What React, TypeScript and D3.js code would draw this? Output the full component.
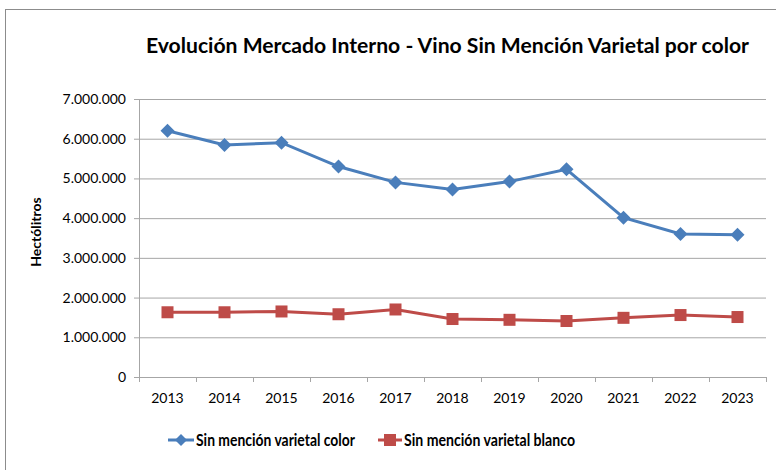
import React from "react";
import * as d3 from "d3";

const years = ["2013","2014","2015","2016","2017","2018","2019","2020","2021","2022","2023"];
const colorSeries = [6200000, 5840000, 5900000, 5300000, 4900000, 4720000, 4920000, 5230000, 4010000, 3600000, 3580000];
const blancoSeries = [1630000, 1630000, 1650000, 1580000, 1700000, 1460000, 1440000, 1410000, 1490000, 1560000, 1510000];
const yTicks = [0, 1000000, 2000000, 3000000, 4000000, 5000000, 6000000, 7000000];
const seriesNames = ["Sin mención varietal color", "Sin mención varietal blanco"];
const title = "Evolución Mercado Interno - Vino Sin Mención Varietal por color";
const yTitle = "Hectólitros";

const W = 776, H = 470;
const left = 139, right = 766, top = 99, bottom = 377;
const BLUE = "#4a7ebb";
const RED = "#be4b48";
const FONT = "Lato, 'Open Sans', sans-serif";

const fmt = (v: number) => (v === 0 ? "0" : d3.format(",")(v).replace(/,/g, "."));

export default function App() {
  const x = d3.scaleBand().domain(years).range([left, right]);
  const y = d3.scaleLinear().domain([0, 7000000]).range([bottom, top]);
  const cx = (d: string) => (x(d) as number) + x.bandwidth() / 2;
  const line = d3.line<number>().x((_, i) => cx(years[i])).y((v) => y(v));
  const diamond = (px: number, py: number, r: number) =>
    `M${px},${py - r}L${px + r},${py}L${px},${py + r}L${px - r},${py}Z`;
  const boundaries = years.map((d) => x(d) as number).concat([right]);

  return (
    <svg width={W} height={H} style={{ position: "absolute", left: 0, top: 0 }}>
      <rect x={0} y={0} width={W} height={H} fill="#fff" />
      <rect x={5.5} y={9.5} width={W + 10} height={H + 10} fill="none" stroke="#8c8c8c" strokeWidth={1} />
      <text x={146} y={53} fontFamily={FONT} fontWeight="bold" fontSize={21} fill="#000" textLength={603} lengthAdjust="spacingAndGlyphs">{title}</text>
      {yTicks.map((t) => (
        <g key={t}>
          {t > 0 && <line x1={left} x2={right} y1={y(t) + 0.5} y2={y(t) + 0.5} stroke="#a6a6a6" strokeWidth={1} />}
          <line x1={left - 5} x2={left} y1={y(t) + 0.5} y2={y(t) + 0.5} stroke="#a6a6a6" strokeWidth={1} />
          <text x={126} y={y(t) + 5} textAnchor="end" fontFamily={FONT} fontSize={14} fill="#000">{fmt(t)}</text>
        </g>
      ))}
      <line x1={left + 0.5} x2={left + 0.5} y1={top} y2={bottom} stroke="#a6a6a6" strokeWidth={1} />
      <line x1={left} x2={right} y1={bottom + 0.5} y2={bottom + 0.5} stroke="#a6a6a6" strokeWidth={1} />
      {boundaries.map((b, i) => (
        <line key={i} x1={b + 0.5} x2={b + 0.5} y1={bottom} y2={bottom + 5} stroke="#a6a6a6" strokeWidth={1} />
      ))}
      {years.map((d) => (
        <text key={d} x={cx(d)} y={403} textAnchor="middle" fontFamily={FONT} fontSize={14} fill="#000">{d}</text>
      ))}
      <text transform={`translate(41,232) rotate(-90)`} textAnchor="middle" fontFamily={FONT} fontWeight="bold" fontSize={14} fill="#000">{yTitle}</text>

      <path d={line(colorSeries) as string} fill="none" stroke={BLUE} strokeWidth={3} />
      {colorSeries.map((v, i) => (
        <path key={i} d={diamond(cx(years[i]), y(v), 7)} fill={BLUE} />
      ))}
      <path d={line(blancoSeries) as string} fill="none" stroke={RED} strokeWidth={3} />
      {blancoSeries.map((v, i) => (
        <rect key={i} x={cx(years[i]) - 6} y={y(v) - 6} width={12} height={12} fill={RED} />
      ))}

      <g>
        <line x1={168} x2={194} y1={440} y2={440} stroke={BLUE} strokeWidth={3} />
        <path d={diamond(181, 440, 6)} fill={BLUE} />
        <text x={196} y={446} fontFamily={FONT} fontWeight="bold" fontSize={17} fill="#000" textLength={159} lengthAdjust="spacingAndGlyphs">{seriesNames[0]}</text>
        <line x1={378} x2={402} y1={440} y2={440} stroke={RED} strokeWidth={3} />
        <rect x={384} y={434} width={12} height={12} fill={RED} />
        <text x={404} y={446} fontFamily={FONT} fontWeight="bold" fontSize={17} fill="#000" textLength={171} lengthAdjust="spacingAndGlyphs">{seriesNames[1]}</text>
      </g>
    </svg>
  );
}
